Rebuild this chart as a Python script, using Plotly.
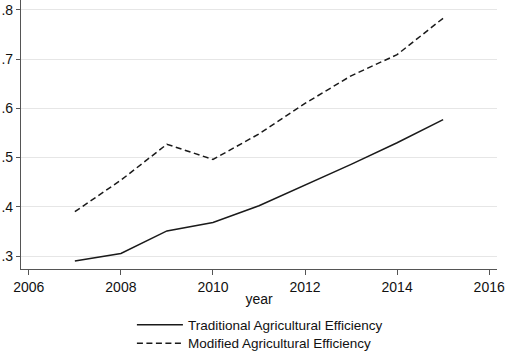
import plotly.graph_objects as go

years = [2007, 2008, 2009, 2010, 2011, 2012, 2013, 2014, 2015]
traditional = [0.290, 0.305, 0.351, 0.368, 0.402, 0.444, 0.486, 0.530, 0.577]
modified = [0.390, 0.454, 0.527, 0.496, 0.548, 0.610, 0.666, 0.709, 0.783]
x_ticks = [2006, 2008, 2010, 2012, 2014, 2016]
y_ticks = [0.3, 0.4, 0.5, 0.6, 0.7, 0.8]
y_tick_labels = [".3", ".4", ".5", ".6", ".7", ".8"]

fig = go.Figure()
fig.add_trace(go.Scatter(x=years, y=traditional, mode="lines",
                         name="Traditional Agricultural Efficiency", legend="legend",
                         line=dict(color="#1a1a1a", width=1.5)))
fig.add_trace(go.Scatter(x=years, y=modified, mode="lines",
                         name="Modified Agricultural Efficiency", legend="legend2",
                         line=dict(color="#1a1a1a", width=1.5, dash="6px,3.5px")))

leg_common = dict(orientation="v", x=0.233, xanchor="left", yanchor="middle",
                  yref="container",
                  font=dict(size=13.5, color="#111"), itemwidth=46,
                  bgcolor="rgba(0,0,0,0)")

fig.update_layout(
    width=505, height=354,
    margin=dict(l=21, r=8, t=0, b=85),
    paper_bgcolor="white", plot_bgcolor="white",
    font=dict(family="Liberation Sans, Arial, sans-serif", size=14, color="#111"),
    showlegend=True,
    legend=dict(y=0.082, **leg_common),
    legend2=dict(y=0.030, **leg_common),
    xaxis=dict(range=[2005.83, 2016.17], tickvals=x_ticks, ticks="outside", ticklen=5,
               tickcolor="#555", showline=True, linecolor="#555", linewidth=1.2,
               showgrid=False, zeroline=False, ticklabelstandoff=0,
               title=dict(text="year", standoff=0, font=dict(size=14))),
    yaxis=dict(range=[0.2736, 0.82], tickvals=y_ticks, ticktext=y_tick_labels,
               ticks="outside", ticklen=4, tickcolor="#555",
               showline=True, linecolor="#555", linewidth=1.2,
               showgrid=True, gridcolor="#e6e6e6", gridwidth=1, zeroline=False),
)

fig.write_html("out.html", config={"displayModeBar": False},
               post_script="document.body.style.margin='0';document.body.style.overflow='hidden';")
